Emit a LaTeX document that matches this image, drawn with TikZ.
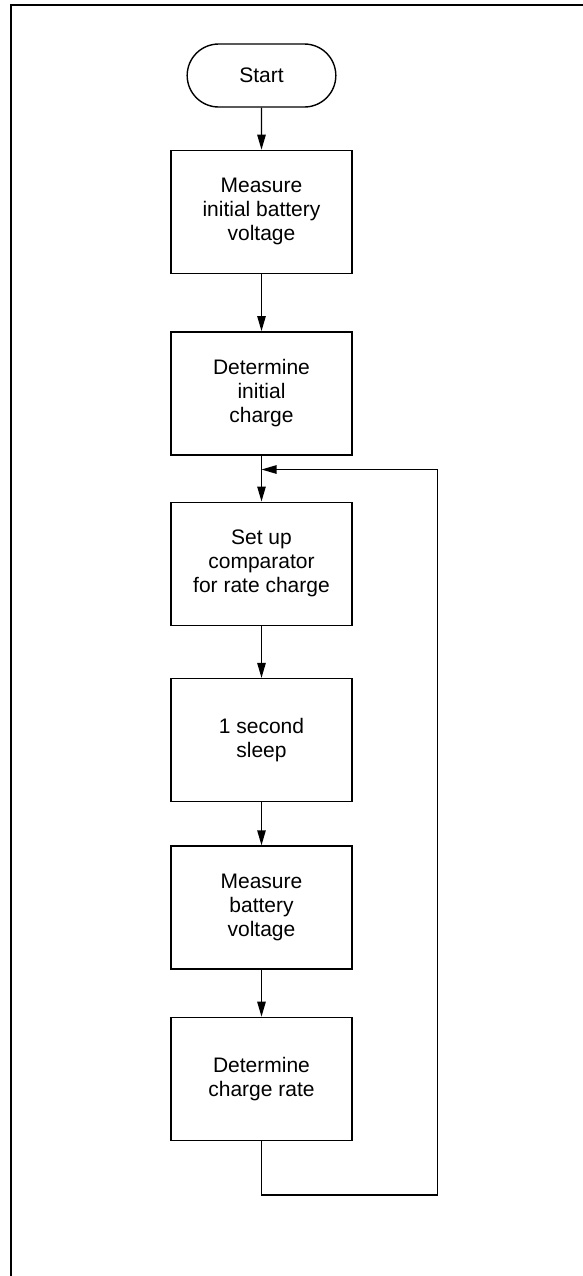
\documentclass[tikz,border=0pt]{standalone}
\usepackage{fontspec}
\setmainfont{Liberation Sans}
\usetikzlibrary{arrows.meta, positioning, shapes.misc}

\begin{document}
\begin{tikzpicture}[
  every node/.style={font=\fontsize{10.5pt}{12pt}\selectfont},
  block/.style={rectangle, draw, line width=0.7pt, minimum width=90.5pt,
                minimum height=61.5pt, align=center, inner sep=2pt},
  terminal/.style={rounded rectangle, draw, line width=0.7pt,
                   minimum width=81pt, minimum height=31.5pt, align=center},
  arrow/.style={-{Triangle[length=7.5pt, width=4.2pt]}, line width=0.7pt},
  frame/.style={line width=1.3pt},
]
\useasboundingbox (0,0) rectangle (291.5pt,-638pt);
\draw[frame] (291.5pt,-2.5pt) -| (5.5pt,-638pt);
\node[terminal] (start) at (130.75pt,-37.75pt) {Start};
\node[block, below=21pt of start]     (measinit) {Measure\\initial battery\\voltage};
\node[block, below=28.5pt of measinit] (initcharge) {Determine\\initial\\charge};
\node[block, below=23pt of initcharge] (setup) {Set up\\comparator\\for rate charge};
\node[block, below=26pt of setup]     (sleep) {1 second\\sleep};
\node[block, below=21.5pt of sleep]   (measbat) {Measure\\battery\\voltage};
\node[block, below=23.5pt of measbat] (rate) {Determine\\charge rate};
\coordinate[below=7pt of initcharge] (join);
\coordinate[below right=27pt and 42.5pt of rate.south east] (loopR);
\draw[arrow] (start) -- (measinit);
\draw[arrow] (measinit) -- (initcharge);
\draw[arrow] (initcharge) -- (setup);
\draw[arrow] (setup) -- (sleep);
\draw[arrow] (sleep) -- (measbat);
\draw[arrow] (measbat) -- (rate);
\draw[arrow] (rate.south) |- (loopR) |- (join);
\end{tikzpicture}
\end{document}
